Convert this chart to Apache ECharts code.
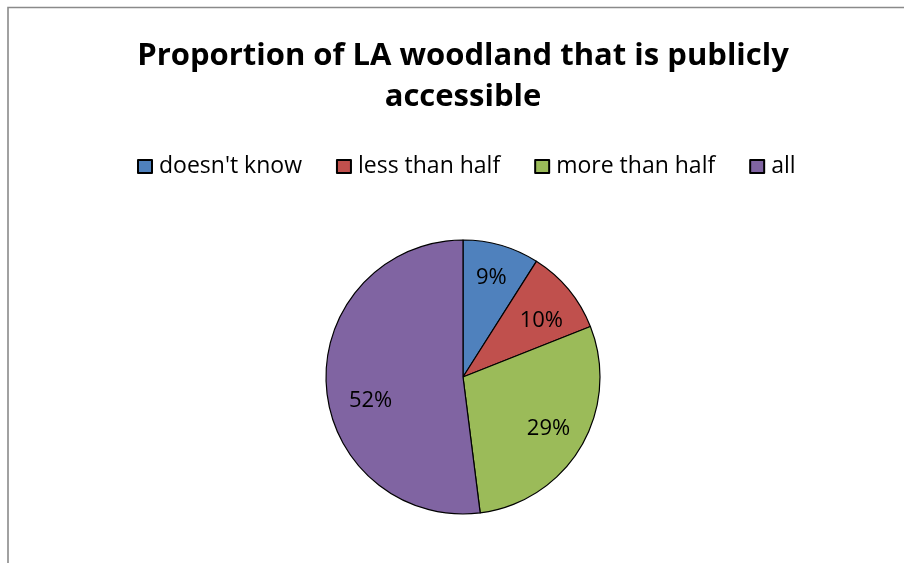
<!DOCTYPE html>
<html>
<head>
<meta charset="utf-8">
<script src="https://cdn.jsdelivr.net/npm/echarts@6/dist/echarts.min.js"></script>
<style>
  html, body { margin: 0; padding: 0; background: #fff; overflow: hidden; }
  #chart { width: 904px; height: 563px; }
</style>
</head>
<body>
<div id="chart"></div>
<script>
// Survey answers: share of local-authority woodland open to the public
const categories = ["doesn't know", "less than half", "more than half", "all"];
const shares = [9, 10, 29, 52];
const sliceColors = ['#4F81BD', '#C0504D', '#9BBB59', '#8064A2'];
// small hand nudges for the percentage labels [dx, dy]
const labelNudge = [[0, -2], [0, 9], [-2, 0], [9, 17]];

const FONT = '"Open Sans", Lato, sans-serif';
const CX = 463, CY = 377, R = 137;

const pieData = categories.map((name, i) => ({
  name: name,
  value: shares[i],
  itemStyle: { color: sliceColors[i] }
}));

const chart = echarts.init(document.getElementById('chart'), null, { renderer: 'canvas' });

chart.setOption({
  backgroundColor: '#ffffff',
  animation: false,
  title: {
    text: 'Proportion of LA woodland that is publicly\naccessible',
    left: 458,
    top: 31,
    textAlign: 'center',
    textStyle: {
      fontFamily: FONT,
      fontWeight: 'bold',
      fontSize: 31,
      lineHeight: 41,
      color: '#000'
    }
  },
  legend: {
    data: categories,
    left: 132,
    top: 150,
    icon: 'rect',
    itemWidth: 14,
    itemHeight: 13,
    itemGap: 34,
    selectedMode: false,
    textStyle: {
      fontFamily: FONT,
      fontSize: 23,
      color: '#000',
      padding: [0, 0, 0, 2]
    }
  },
  graphic: [{
    // chart-area frame: left and top edges
    type: 'polyline',
    silent: true,
    shape: { points: [[8, 600], [8, 7.5], [940, 7.5]] },
    style: { fill: 'none', stroke: '#8a8a8a', lineWidth: 1.6 }
  }],
  series: [{
    type: 'pie',
    center: [CX, CY],
    radius: [0, R],
    startAngle: 90,
    clockwise: true,
    data: pieData,
    itemStyle: { borderColor: '#000', borderWidth: 1.2 },
    label: { show: false },
    labelLine: { show: false },
    emphasis: { disabled: true }
  }, {
    // percentage labels placed at roughly 72% of the radius
    type: 'pie',
    center: [CX, CY],
    radius: [R * 0.44, R],
    startAngle: 90,
    clockwise: true,
    silent: true,
    legendHoverLink: false,
    data: categories.map((name, i) => ({
      name: name,
      value: shares[i],
      itemStyle: { color: 'rgba(0,0,0,0)', borderWidth: 0 },
      label: { offset: labelNudge[i] }
    })),
    label: {
      show: true,
      position: 'inside',
      formatter: p => p.value + '%',
      fontFamily: FONT,
      fontSize: 22,
      color: '#000'
    },
    labelLine: { show: false },
    emphasis: { disabled: true }
  }]
});
</script>
</body>
</html>
